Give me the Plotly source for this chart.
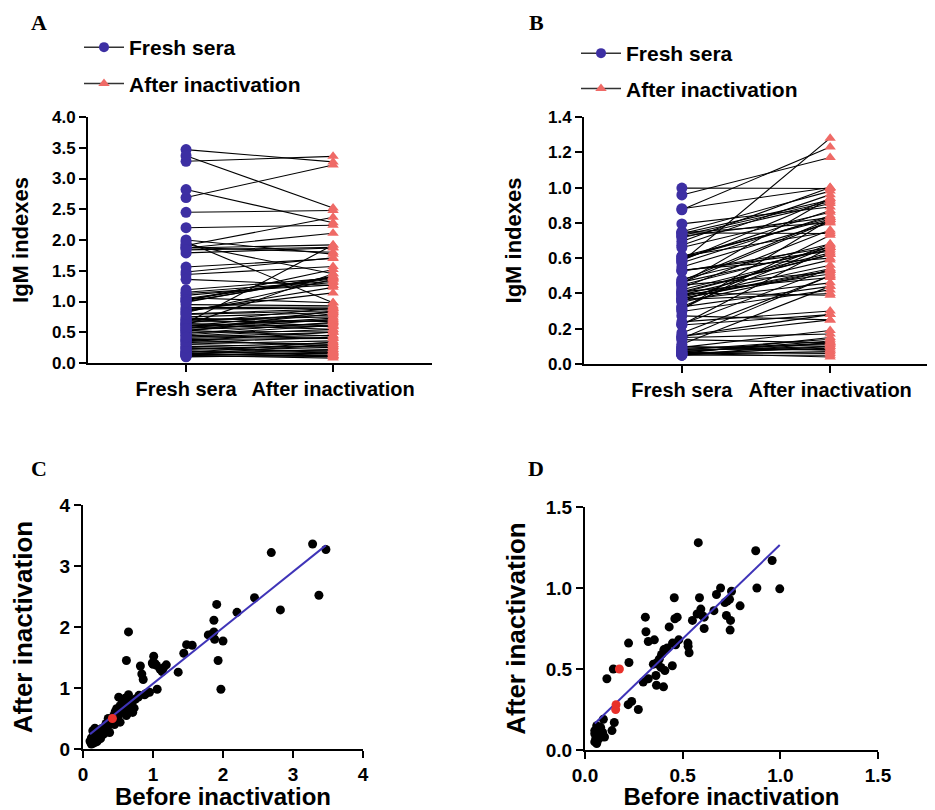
import numpy as np
import plotly.graph_objects as go

# ---------------- data ----------------
categories = ["Fresh sera", "After inactivation"]
series_names = ["Fresh sera", "After inactivation"]

# Panel A / C : IgM indexes, before (fresh) vs after inactivation
c_before = [3.47, 3.28, 2.69, 3.37, 2.82, 2.45, 2.20, 1.91, 1.87, 1.87,
            1.79, 1.88, 2.00, 1.93, 1.97, 1.48, 1.56, 1.44, 1.36, 1.01,
            1.00, 1.05, 1.19, 1.10, 1.13, 1.06, 0.95, 0.65, 0.62, 0.82,
            0.84, 0.86, 0.88, 0.79, 0.65, 0.51, 0.60, 0.69, 0.73, 0.60,
            0.53, 0.57, 0.64, 0.46, 0.53, 0.36, 0.38, 0.38, 0.26, 0.17,
            0.24, 0.18, 0.11, 1.15, 1.03, 0.75, 0.70, 0.48, 0.55, 0.44,
            0.33, 0.30, 0.22, 0.15, 0.13, 0.20, 0.14, 0.12, 0.16, 0.27,
            0.31, 0.40, 0.58, 0.67, 0.90, 0.50, 0.10, 0.12, 0.19, 0.14,
            0.25, 0.35, 0.45, 0.62, 0.71, 0.80, 0.99, 1.84, 0.56]
c_after = [3.27, 3.36, 3.22, 2.52, 2.28, 2.48, 2.24, 2.37, 2.11, 1.92,
           1.87, 1.80, 1.77, 1.45, 0.98, 1.71, 1.70, 1.57, 1.26, 1.52,
           1.39, 1.37, 1.38, 1.31, 1.27, 0.98, 0.93, 1.92, 1.45, 1.36,
           1.23, 1.14, 0.89, 0.85, 0.89, 0.85, 0.83, 0.78, 0.67, 0.70,
           0.71, 0.64, 0.59, 0.61, 0.44, 0.50, 0.40, 0.27, 0.33, 0.34,
           0.19, 0.15, 0.11, 1.33, 1.40, 0.82, 0.75, 0.66, 0.60, 0.55,
           0.42, 0.25, 0.28, 0.22, 0.16, 0.12, 0.30, 0.18, 0.10, 0.22,
           0.36, 0.45, 0.73, 0.68, 0.91, 0.52, 0.13, 0.08, 0.20, 0.12,
           0.17, 0.30, 0.40, 0.55, 0.60, 0.88, 1.41, 1.88, 0.80]
c_red_before = [0.42]
c_red_after = [0.50]

# Panel B / D
d_before = [0.58, 0.874, 0.958, 0.88, 0.997, 0.694, 0.673, 0.75, 0.794, 0.728,
            0.716, 0.724, 0.745, 0.743, 0.66, 0.61, 0.61, 0.593, 0.586, 0.574,
            0.55, 0.457, 0.472, 0.46, 0.431, 0.48, 0.464, 0.448, 0.527, 0.528,
            0.533, 0.447, 0.309, 0.312, 0.324, 0.355, 0.223, 0.225, 0.145, 0.112,
            0.392, 0.404, 0.421, 0.35, 0.372, 0.389, 0.409, 0.38, 0.363, 0.324,
            0.298, 0.366, 0.402, 0.221, 0.239, 0.273, 0.15, 0.138, 0.094, 0.06,
            0.05, 0.085, 0.05, 0.068, 0.055, 0.077, 0.06, 0.07, 0.08, 0.06,
            0.09, 0.10, 0.05, 0.065, 0.41, 0.37, 0.60, 0.74]
d_after = [1.28, 1.23, 1.17, 1.00, 0.995, 1.00, 0.96, 0.98, 0.89, 0.92,
           0.91, 0.83, 0.80, 0.74, 0.86, 0.75, 0.82, 0.87, 0.94, 0.84,
           0.80, 0.94, 0.82, 0.81, 0.76, 0.68, 0.65, 0.66, 0.66, 0.64,
           0.60, 0.52, 0.82, 0.73, 0.67, 0.68, 0.66, 0.54, 0.50, 0.44,
           0.59, 0.62, 0.63, 0.53, 0.53, 0.51, 0.49, 0.56, 0.46, 0.44,
           0.42, 0.40, 0.39, 0.28, 0.30, 0.25, 0.17, 0.12, 0.19, 0.15,
           0.10, 0.08, 0.05, 0.13, 0.07, 0.10, 0.04, 0.12, 0.14, 0.09,
           0.11, 0.08, 0.12, 0.06, 0.62, 0.54, 0.83, 0.93]
d_red_before = [0.176, 0.159, 0.157]
d_red_after = [0.50, 0.28, 0.25]

# ---------------- style ----------------
BLUE = "#3d2fa3"
SALMON = "#ef6a66"
RED = "#e8302a"
LINE_BLUE = "#3f34b8"
FONT = "Liberation Sans, Arial, sans-serif"

# page body has an 8px margin: figure sized to fill the rest of the window
OFF = 8
W, H = 935 - OFF, 810 - OFF


def px_x(p):
    return (p - OFF) / W


def px_y(p):
    return 1 - (p - OFF) / H


fig = go.Figure()


def paired_panel(before, after, xa, ya, legend):
    lx, ly = [], []
    for b, a in zip(before, after):
        lx += [categories[0], categories[1], None]
        ly += [b, a, None]
    fig.add_trace(go.Scatter(x=lx, y=ly, mode="lines", xaxis=xa, yaxis=ya,
                             line=dict(color="black", width=1.1),
                             showlegend=False, hoverinfo="skip"))
    fig.add_trace(go.Scatter(x=[categories[0]] * len(before), y=before, mode="markers",
                             xaxis=xa, yaxis=ya,
                             marker=dict(color=BLUE, size=11, symbol="circle"),
                             showlegend=False))
    fig.add_trace(go.Scatter(x=[categories[1]] * len(after), y=after, mode="markers",
                             xaxis=xa, yaxis=ya,
                             marker=dict(color=SALMON, size=10, symbol="triangle-up"),
                             showlegend=False))
    # legend entries
    fig.add_trace(go.Scatter(x=[None], y=[None], mode="lines+markers", name=series_names[0],
                             xaxis=xa, yaxis=ya, legend=legend, legendgroup=legend + "a",
                             line=dict(color="#333333", width=1.5),
                             marker=dict(color=BLUE, size=10, symbol="circle")))
    fig.add_trace(go.Scatter(x=[None], y=[None], mode="lines+markers", name=series_names[1],
                             xaxis=xa, yaxis=ya, legend=legend, legendgroup=legend + "b",
                             line=dict(color="#333333", width=1.5),
                             marker=dict(color=SALMON, size=10, symbol="triangle-up")))


def scatter_panel(before, after, red_b, red_a, xa, ya):
    fig.add_trace(go.Scatter(x=before, y=after, mode="markers", xaxis=xa, yaxis=ya,
                             marker=dict(color="black", size=9), showlegend=False))
    allb = np.array(before + red_b)
    alla = np.array(after + red_a)
    k, c0 = np.polyfit(allb, alla, 1)
    xs = np.array([allb.min(), allb.max()])
    fig.add_trace(go.Scatter(x=xs, y=k * xs + c0, mode="lines", xaxis=xa, yaxis=ya,
                             line=dict(color=LINE_BLUE, width=2), showlegend=False))
    fig.add_trace(go.Scatter(x=red_b, y=red_a, mode="markers", xaxis=xa, yaxis=ya,
                             marker=dict(color=RED, size=9), showlegend=False))


a_before = c_before + c_red_before
a_after = c_after + c_red_after
b_before = d_before + d_red_before
b_after = d_after + d_red_after

paired_panel(a_before, a_after, "x", "y", "legend")
paired_panel(b_before, b_after, "x2", "y2", "legend2")
scatter_panel(c_before, c_after, c_red_before, c_red_after, "x3", "y3")
scatter_panel(d_before, d_after, d_red_before, d_red_after, "x4", "y4")

axis_common = dict(showline=True, linecolor="black", linewidth=2, ticks="outside",
                   ticklen=7, tickwidth=2, tickcolor="black", showgrid=False,
                   zeroline=False, automargin=False,
                   tickfont=dict(size=17, color="black", family=FONT, weight="bold"))

fig.update_layout(
    width=W, height=H, margin=dict(l=0, r=0, t=0, b=0, autoexpand=False),
    paper_bgcolor="white", plot_bgcolor="white",
    font=dict(family=FONT, color="black", weight="bold"),
    xaxis=dict(axis_common, domain=[px_x(88), px_x(432)], anchor="y", type="category",
               categoryorder="array", categoryarray=categories, range=[-0.667, 1.673],
               tickfont=dict(size=20, color="black", family=FONT, weight="bold")),
    yaxis=dict(axis_common, domain=[px_y(363), px_y(117)], anchor="x", range=[0, 4],
               dtick=0.5, tickformat=".1f",
               title=dict(text="IgM indexes", font=dict(size=22, weight="bold"), standoff=20)),
    xaxis2=dict(axis_common, domain=[px_x(584), px_x(928)], anchor="y2", type="category",
                categoryorder="array", categoryarray=categories, range=[-0.66, 1.66],
                tickfont=dict(size=20, color="black", family=FONT, weight="bold")),
    yaxis2=dict(axis_common, domain=[px_y(364), px_y(117)], anchor="x2", range=[0, 1.4],
                dtick=0.2, tickformat=".1f",
                title=dict(text="IgM indexes", font=dict(size=22, weight="bold"), standoff=20)),
    xaxis3=dict(axis_common, domain=[px_x(83), px_x(363)], anchor="y3", range=[0, 4],
                dtick=1, tickfont=dict(size=19, color="black", family=FONT, weight="bold"),
                title=dict(text="Before inactivation", font=dict(size=24, weight="bold"),
                           standoff=6)),
    yaxis3=dict(axis_common, domain=[px_y(749), px_y(505)], anchor="x3", range=[0, 4],
                dtick=1, tickfont=dict(size=19, color="black", family=FONT, weight="bold"),
                title=dict(text="After inactivation", font=dict(size=26, weight="bold"),
                           standoff=27)),
    xaxis4=dict(axis_common, domain=[px_x(585), px_x(878)], anchor="y4", range=[0, 1.5],
                dtick=0.5, tickformat=".1f",
                tickfont=dict(size=19, color="black", family=FONT, weight="bold"),
                title=dict(text="Before inactivation", font=dict(size=24, weight="bold"),
                           standoff=6)),
    yaxis4=dict(axis_common, domain=[px_y(750), px_y(507)], anchor="x4", range=[0, 1.5],
                dtick=0.5, tickformat=".1f",
                tickfont=dict(size=19, color="black", family=FONT, weight="bold"),
                title=dict(text="After inactivation", font=dict(size=26, weight="bold"),
                           standoff=13)),
    legend=dict(x=px_x(79), y=px_y(27), xanchor="left", yanchor="top",
                font=dict(size=21, weight="bold"), tracegroupgap=6,
                bgcolor="rgba(0,0,0,0)", itemwidth=40),
    legend2=dict(x=px_x(576), y=px_y(33), xanchor="left", yanchor="top",
                 font=dict(size=21, weight="bold"), tracegroupgap=5,
                 bgcolor="rgba(0,0,0,0)", itemwidth=40),
)

for lab, xp, yp in [("A", 39, 22), ("B", 536, 22), ("C", 39, 468), ("D", 536, 468)]:
    fig.add_annotation(text=lab, x=px_x(xp), y=px_y(yp), xref="paper", yref="paper",
                       xanchor="center", yanchor="middle", showarrow=False,
                       font=dict(family="Liberation Serif, Times New Roman, serif",
                                 size=22, weight="bold", color="black"))

fig.write_html("out.html")
